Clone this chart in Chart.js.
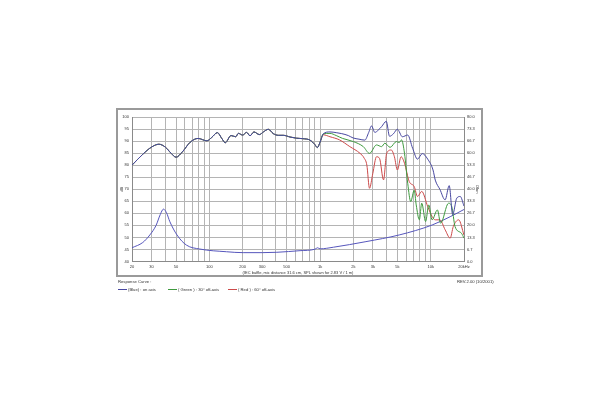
<!DOCTYPE html>
<html>
<head>
<meta charset="utf-8">
<script src="https://cdn.jsdelivr.net/npm/chart.js@4/dist/chart.umd.min.js"></script>
<style>
body{margin:0;background:#fff;font-family:"Liberation Sans",Arial,sans-serif;}
#wrap{position:relative;width:600px;height:400px;}
#frame{position:absolute;left:116px;top:108px;width:367px;height:169px;border:2px solid #9a9a9a;box-sizing:border-box;}
canvas{position:absolute;left:0;top:0;}
.txt{position:absolute;font-size:4.2px;color:#333;white-space:nowrap;line-height:5px;}
.ln{position:absolute;width:9px;height:1px;}
</style>
</head>
<body>
<div id="wrap">
  <div id="frame"></div>
  <canvas id="resp" width="600" height="400"></canvas>
  <div class="txt" style="left:118px;top:279px;">Response Curve :</div>
  <div class="ln" style="left:118px;top:289px;background:#4848a0;"></div>
  <div class="txt" style="left:128px;top:287px;">(Blue) : on axis</div>
  <div class="ln" style="left:168px;top:289px;background:#3f9a3f;"></div>
  <div class="txt" style="left:178px;top:287px;">( Green ) : 30° off-axis</div>
  <div class="ln" style="left:228px;top:289px;background:#cc4a4a;"></div>
  <div class="txt" style="left:238px;top:287px;">( Red ) : 60° off-axis</div>
  <div class="txt" style="left:457px;top:279px;">REV.2.00 (10/2001)</div>
</div>
<script>
// x grid lines + which of them get a label
var xGrid = [20,30,40,50,60,70,80,90,100,200,300,400,500,600,700,800,900,
             1000,2000,3000,4000,5000,6000,7000,8000,9000,10000,20000];
var xLabels = {20:'20',30:'30',50:'50',100:'100',200:'200',300:'300',500:'500',
               1000:'1k',2000:'2k',3000:'3k',5000:'5k',10000:'10k',20000:'20kHz'};

// on axis (blue), dB
var freqBlue = [20,25,30,35,40,45,50,57,67,79,95,105,118,130,139,157,173,183,200,217,233,253,283,308,341,378,420,466,535,614,700,812,900,946,1000,1071,1230,1400,1570,1800,1990,2250,2540,2750,2920,3130,3350,3600,3970,4250,4600,5000,5550,6200,6870,7600,8400,9400,10500,11000,12100,13500,14700,15800,17200,18500,20000];
var splBlue  = [80,84.5,87.5,88.7,87.5,85,83.3,85.5,89.5,91.1,90.1,91.5,93.5,91,89.3,92.3,91.8,93.2,92.5,93.6,92.2,93.8,92.7,93.8,94.9,93.1,92.4,92.4,91.7,91.2,91,90.4,88.5,87.3,89.5,93,93.8,93.5,93.1,92.3,91.3,90.8,90.4,93.5,96.3,93.6,94.5,96,98.2,92,93,94.9,91.8,92.5,87,82.5,84.8,82.5,78,73.8,70,65.6,71.5,59.5,66.3,67,63];

// 30 deg off axis (green), dB
var freqGreen = [20,25,30,35,40,45,50,57,67,79,95,105,118,130,139,157,173,183,200,217,233,253,283,308,341,378,420,466,535,614,700,812,900,946,1000,1071,1230,1400,1600,2000,2460,2800,3240,3600,3850,4300,4900,5200,5450,5800,6200,6600,7100,7400,7900,8300,9000,9600,10300,11500,12300,14500,15500,16600,19000,20000];
var splGreen  = [80,84.5,87.5,88.7,87.5,85,83.3,85.5,89.5,91.1,90.1,91.5,93.5,91,89.3,92.3,91.8,93.2,92.5,93.6,92.2,93.8,92.7,93.8,94.9,93.1,92.4,92.4,91.7,91.2,91,90.4,88.5,87.3,89.5,93,93.2,92.3,91.1,89.8,87.7,84.9,88.4,87.7,89.1,87.4,89.8,89.4,90.5,84.9,72.5,64.9,69.6,63.5,57.3,64.2,56.6,63.5,57.3,61.4,55.9,64.2,62.8,54.5,51.7,49.7];

// 60 deg off axis (red), dB
var freqRed = [20,25,30,35,40,45,50,57,67,79,95,105,118,130,139,157,173,183,200,217,233,253,283,308,341,378,420,466,535,614,700,812,900,946,1000,1071,1230,1500,1860,2300,2500,2650,2800,3000,3240,3450,3750,4000,4400,4700,5000,5400,5800,6400,7100,7600,8300,9400,10300,11000,12100,13500,15000,16000,17900,20000];
var splRed  = [80,84.5,87.5,88.7,87.5,85,83.3,85.5,89.5,91.1,90.1,91.5,93.5,91,89.3,92.3,91.8,93.2,92.5,93.6,92.2,93.8,92.7,93.8,94.9,93.1,92.4,92.4,91.7,91.2,91,90.4,88.5,87.3,89.5,92.6,91.8,90.5,87.7,84.9,83,80,70.4,76.6,83.5,82.8,73.9,84.9,86.3,83.5,78,83.5,80.8,73.2,71.1,67,69.1,62.8,58.7,57.3,57.3,53.2,49.7,54.5,57.3,51];

// impedance, Ohm
var freqImp = [20,25,29,33,36,38.5,41,44,51,62,82,143,202,300,407,660,900,950,1000,1320,2600,5200,10300,15000,20000];
var ohmImp  = [7.6,10.5,14.7,20,26,29,27,22,14.7,9.1,6.9,5.4,4.9,4.9,5.1,6.0,6.8,7.6,7.0,7.9,11,14.7,20.2,24.8,28.8];

function pts(fx, vy) {
  return fx.map(function (f, i) { return {x: f, y: vy[i]}; });
}

function curve(label, fx, vy, color, axis) {
  return {
    label: label,
    data: pts(fx, vy),
    borderColor: color,
    borderWidth: 1,
    pointRadius: 0,
    cubicInterpolationMode: 'monotone',
    yAxisID: axis
  };
}

var tickFont = {family: 'Liberation Sans', size: 4};

// first dataset ends up on top
var config = {
  type: 'line',
  data: {
    datasets: [
      curve('(Blue) : on axis', freqBlue, splBlue, '#4848a0', 'y'),
      curve('( Green ) : 30° off-axis', freqGreen, splGreen, '#3f9a3f', 'y'),
      curve('( Red ) : 60° off-axis', freqRed, splRed, '#cc4a4a', 'y'),
      curve('Impedance', freqImp, ohmImp, '#5656bc', 'yR')
    ]
  },
  options: {
    responsive: false,
    animation: false,
    layout: {padding: {left: 119, right: 120, top: 117, bottom: 124.5}},
    plugins: {legend: {display: false}, tooltip: {enabled: false}},
    scales: {
      x: {
        type: 'logarithmic',
        min: 20,
        max: 20000,
        afterBuildTicks: function (s) {
          s.ticks = xGrid.map(function (v) { return {value: v}; });
        },
        afterFit: function (s) { s.height = 14; },
        ticks: {
          autoSkip: false, maxRotation: 0, padding: 3, color: '#333', font: tickFont,
          callback: function (v) { return xLabels[v] || ''; }
        },
        grid: {color: '#b4b4b4', drawTicks: false},
        border: {color: '#8a8a8a'},
        title: {
          display: true, padding: 0, color: '#333', font: {family: 'Liberation Sans', size: 4},
          text: '(IEC baffle, mic distance 31.6 cm, SPL shown for 2.83 V / 1 m)'
        }
      },
      y: {
        position: 'left',
        min: 40,
        max: 100,
        afterFit: function (s) { s.width = 13; },
        ticks: {stepSize: 5, padding: 3, color: '#333', font: tickFont},
        grid: {color: '#b4b4b4', drawTicks: false},
        border: {color: '#8a8a8a'},
        title: {display: true, text: 'dB', padding: 0, color: '#333', font: tickFont}
      },
      yR: {
        position: 'right',
        min: 0,
        max: 80,
        afterBuildTicks: function (s) {
          var t = [];
          for (var i = 0; i <= 12; i++) t.push({value: i * 80 / 12});
          s.ticks = t;
        },
        afterFit: function (s) { s.width = 16; },
        ticks: {
          padding: 3, color: '#333', font: tickFont,
          callback: function (v) { return v.toFixed(1); }
        },
        grid: {drawOnChartArea: false, drawTicks: false},
        border: {color: '#8a8a8a'},
        title: {display: true, text: 'Ohm', padding: 0, color: '#333', font: tickFont}
      }
    }
  }
};

var ctx = document.getElementById('resp').getContext('2d');
var respChart = new Chart(ctx, config);
</script>
</body>
</html>
